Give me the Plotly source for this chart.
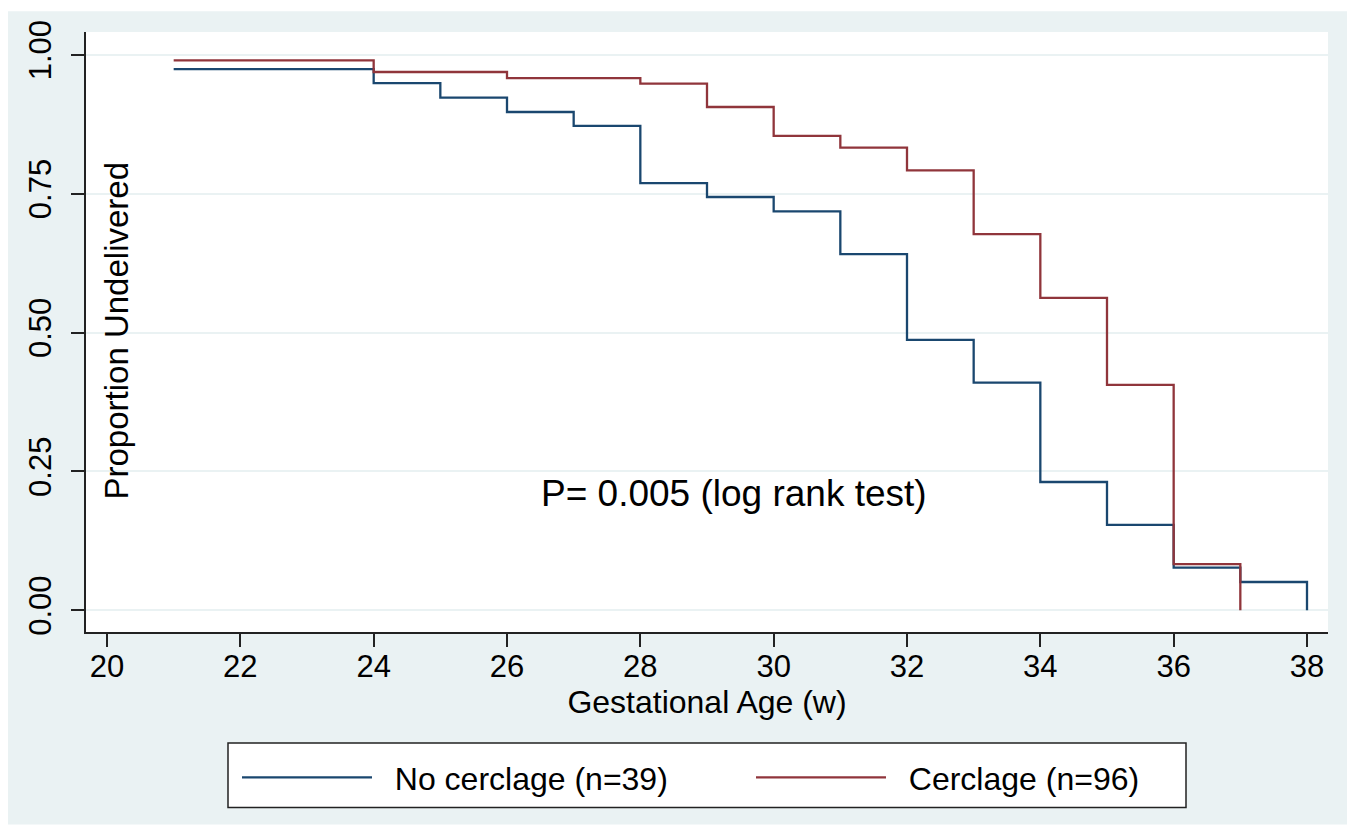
import plotly.graph_objects as go

# Kaplan-Meier step data (start of each step, proportion undelivered)
no_cerclage_weeks = [21, 24, 25, 26, 27, 28, 29, 30, 31, 32, 33, 34, 35, 36, 37, 38]
no_cerclage_prop = [0.974, 0.949, 0.923, 0.897, 0.872, 0.769, 0.744, 0.718,
                    0.641, 0.487, 0.410, 0.231, 0.154, 0.077, 0.051, 0.0]

cerclage_weeks = [21, 24, 26, 28, 29, 30, 31, 32, 33, 34, 35, 36, 37]
cerclage_prop = [0.990, 0.969, 0.958, 0.948, 0.906, 0.854, 0.833, 0.792,
                 0.677, 0.5625, 0.406, 0.083, 0.0]

series_names = ["No cerclage (n=39)", "Cerclage (n=96)"]

x_ticks = [20, 22, 24, 26, 28, 30, 32, 34, 36, 38]
y_ticks = [0.0, 0.25, 0.5, 0.75, 1.0]
y_tick_labels = ["0.00", "0.25", "0.50", "0.75", "1.00"]

FONT = "Liberation Sans, Arial, Helvetica, sans-serif"
BG = "#EAF2F3"
NAVY = "#1A476F"
MAROON = "#90353B"
NBSP = "\u00a0"

fig = go.Figure()
fig.add_trace(go.Scatter(
    x=no_cerclage_weeks, y=no_cerclage_prop, mode="lines",
    line=dict(color=NAVY, width=2.3, shape="hv"),
    name=NBSP * 2 + series_names[0]))
fig.add_trace(go.Scatter(
    x=cerclage_weeks, y=cerclage_prop, mode="lines",
    line=dict(color=MAROON, width=2.3, shape="hv"),
    name=NBSP * 2 + series_names[1]))

# page body has an 8px margin; figure is sized so that it fills the window
W, H = 1347, 821
L, R, T, B = 78, 27, 19, 197
pw, ph = W - L - R, H - T - B


def px_x(p):
    return (p - L) / pw


def px_y(p):
    return (H - B - p) / ph


fig.update_layout(
    width=W, height=H,
    margin=dict(l=L, r=R, t=T, b=B, pad=0),
    paper_bgcolor="white",
    plot_bgcolor="white",
    font=dict(family=FONT, color="black", size=31),
    showlegend=True,
    legend=dict(
        orientation="h",
        x=px_x(229), y=px_y(743), xanchor="left", yanchor="top",
        bgcolor="rgba(0,0,0,0)", borderwidth=0,
        font=dict(size=32, family=FONT, color="black"),
        itemwidth=130,
        entrywidth=369,
        tracegroupgap=0,
    ),
    xaxis=dict(
        range=[19.685, 38.315], tickmode="array", tickvals=x_ticks,
        ticks="outside", ticklen=13, tickwidth=1.5, tickcolor="#222222",
        showline=True, linecolor="#222222", linewidth=1.5,
        showgrid=False, zeroline=False,
        tickfont=dict(size=31),
        ticklabelstandoff=-7,
        title=dict(text="Gestational Age (w)", font=dict(size=32), standoff=6),
    ),
    yaxis=dict(
        range=[-0.039, 1.041], tickmode="array", tickvals=y_ticks,
        ticktext=y_tick_labels, tickangle=-90,
        ticks="outside", ticklen=13, tickwidth=1.5, tickcolor="#222222",
        showline=True, linecolor="#222222", linewidth=1.5,
        showgrid=True, gridcolor=BG, gridwidth=2,
        zeroline=False,
        tickfont=dict(size=31),
        ticklabelstandoff=8,
    ),
    shapes=[
        # outer light background
        dict(type="rect", xref="paper", yref="paper", layer="below",
             x0=px_x(-2), x1=px_x(1342), y0=px_y(818), y1=px_y(-2),
             fillcolor=BG, line=dict(width=0)),
        # white plot region
        dict(type="rect", xref="paper", yref="paper", layer="below",
             x0=0, x1=1, y0=0, y1=1,
             fillcolor="white", line=dict(width=0)),
        # legend frame
        dict(type="rect", xref="paper", yref="paper", layer="below",
             x0=px_x(220), x1=px_x(1178), y0=px_y(801), y1=px_y(736),
             fillcolor="white", line=dict(color="#222222", width=1.5)),
    ],
    annotations=[
        dict(text="Proportion Undelivered", xref="paper", yref="paper",
             x=px_x(109), y=px_y(320), textangle=-90, showarrow=False,
             font=dict(size=33), xanchor="center", yanchor="middle"),
        dict(text="P= 0.005 (log rank test)", xref="x", yref="y",
             x=29.4, y=0.211, showarrow=False, font=dict(size=37),
             xanchor="center", yanchor="middle"),
    ],
)

fig.write_html("out.html")
